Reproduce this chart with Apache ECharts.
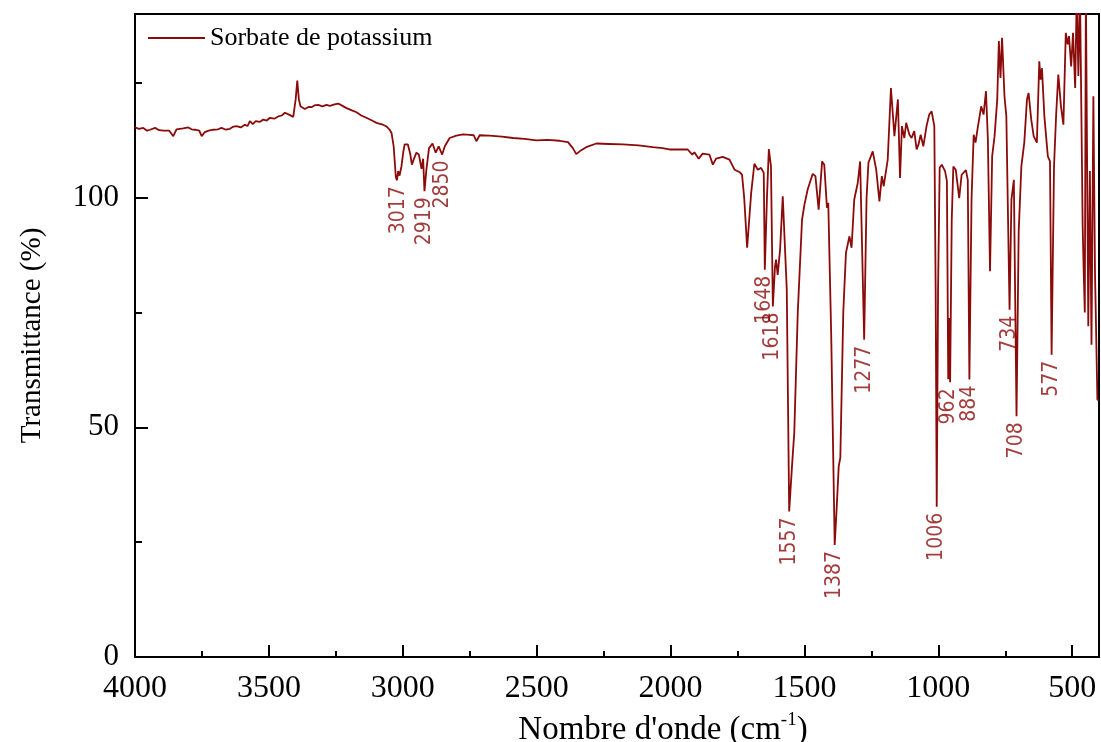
<!DOCTYPE html>
<html>
<head>
<meta charset="utf-8">
<script src="https://cdn.jsdelivr.net/npm/echarts@6/dist/echarts.min.js"></script>
<style>
html,body{margin:0;padding:0;background:#fff;}
#chart{width:1101px;height:742px;}
</style>
</head>
<body>
<div id="chart"></div>
<script>
const seriesName = 'Sorbate de potassium';
const wavenumbers = [
4000,3985,3969,3955,3944,3925,3910,3894,3872,3857,3845,3838,3820,3801,3789,3776,3760,3751,3739,3725,
3708,3690,3677,3660,3646,3635,3621,3605,3590,3580,3571,3560,3549,3535,3521,3508,3496,3480,3465,3452,
3440,3425,3409,3400,3394,3388,3382,3366,3350,3341,3330,3316,3300,3285,3272,3255,3241,3225,3210,3190,
3173,3155,3136,3115,3098,3085,3074,3060,3049,3042,3034,3026,3022,3017,3012,3005,2998,2993,2981,2972,
2966,2958,2949,2940,2930,2924,2919,2912,2902,2889,2877,2866,2853,2843,2825,2800,2775,2750,2735,2725,
2713,2676,2630,2588,2545,2501,2460,2414,2383,2365,2352,2335,2315,2277,2230,2178,2120,2066,2030,2004,
1936,1919,1911,1895,1880,1855,1842,1830,1805,1780,1761,1743,1733,1725,1714,1699,1687,1674,1662,1652,
1648,1640,1633,1625,1618,1610,1606,1600,1591,1581,1574,1566,1557,1546,1538,1525,1509,1500,1488,1469,
1459,1447,1434,1426,1416,1411,1400,1387,1380,1372,1366,1355,1345,1332,1324,1314,1301,1292,1285,1277,
1268,1261,1245,1232,1220,1211,1204,1189,1177,1164,1151,1143,1136,1127,1120,1108,1100,1090,1081,1074,
1066,1056,1044,1034,1025,1015,1010,1006,1001,995,987,975,968,963,960,956,950,944,935,922,
913,897,890,884,876,868,861,853,840,831,822,815,807,799,790,780,774,768,762,753,
746,734,727,718,708,700,690,679,669,663,653,644,632,623,618,613,604,591,583,577,
568,560,552,542,533,524,517,512,504,497,489,483,477,471,465,461,457,453,449,440,
434,428,421,415,406,400
];
const transmittance = [
115.3,115.0,115.2,114.6,114.8,115.2,114.7,114.6,114.6,113.4,114.9,114.8,115.1,115.3,114.9,114.8,114.6,113.4,114.3,114.6,
114.8,114.9,115.2,114.8,115.0,115.4,115.6,115.3,115.9,115.6,116.7,116.0,116.7,116.5,117.0,116.8,117.4,117.2,117.7,117.9,
118.5,118.1,117.6,121.4,125.5,121.4,119.9,119.3,119.8,119.7,120.1,120.2,119.9,120.2,120.0,120.3,120.5,120.0,119.5,119.0,
118.6,117.9,117.4,116.8,116.3,116.1,115.9,115.5,114.8,114.1,111.2,104.5,103.8,105.8,104.8,106.8,110.0,111.6,111.6,109.5,
107.2,108.5,109.8,109.4,106.3,108.5,101.4,106.0,110.8,111.8,109.8,111.2,109.4,111.2,113.0,113.5,113.8,113.7,113.6,112.3,
113.6,113.5,113.3,113.0,112.8,112.5,112.6,112.4,112.1,110.8,109.5,110.3,111.0,111.8,111.7,111.6,111.4,111.0,110.8,110.5,
110.5,109.4,109.9,108.5,109.6,109.4,107.2,108.5,108.9,108.3,106.1,105.6,105.0,100.0,89.1,101.0,107.4,106.1,106.5,105.4,
84.3,100.0,110.6,106.8,76.3,85.0,86.5,83.2,88.7,100.3,99.9,80.0,31.7,42.0,48.8,74.9,95.2,98.5,101.8,105.2,
104.7,97.4,107.9,107.2,97.8,98.9,70.0,24.4,32.0,41.5,43.4,75.0,88.0,91.6,89.1,99.6,103.2,107.9,107.9,69.1,
100.0,107.6,110.1,106.1,99.2,104.7,102.5,108.3,123.9,113.4,121.4,104.3,115.6,113.0,116.3,113.7,113.0,114.5,110.5,111.6,
113.7,111.2,115.6,118.1,118.8,115.6,80.0,32.7,80.0,106.5,107.2,105.8,103.6,60.5,73.8,59.8,95.0,106.8,106.1,99.9,
105.0,106.0,103.9,60.4,99.6,113.7,112.0,115.2,119.9,118.1,123.2,112.7,84.0,109.0,113.4,121.4,134.1,126.1,134.8,122.1,
117.7,75.6,99.6,103.9,52.4,92.4,106.8,112.0,121.4,122.8,117.0,113.4,112.0,129.7,125.7,128.2,117.7,109.0,107.9,65.8,
106.8,118.1,126.8,119.9,115.9,135.9,133.4,135.2,128.6,135.9,123.9,145.0,126.5,145.0,145.0,93.8,83.6,75.0,145.0,72.0,
105.8,68.0,122.1,84.0,56.0,56.0
];
const peakWavenumbers = [3017,2919,2850,1648,1618,1557,1387,1277,1006,962,884,734,708,577];
const peakTransmittance = [103.8,101.4,109.4,84.3,76.3,31.7,24.4,69.1,32.7,59.8,60.4,75.6,52.4,65.8];
const xMajorTicks = [500,1000,1500,2000,2500,3000,3500,4000];
const xMinorTicks = [750,1250,1750,2250,2750,3250,3750];
const yMajorTicks = [0,50,100];
const yMinorTicks = [25,75,125];

const lineColor = '#8B0A0A';
const spectrum = wavenumbers.map((w, i) => [w, transmittance[i]]);
const peaks = peakWavenumbers.map((w, i) => [w, peakTransmittance[i], String(w)]);
const serif = "'Liberation Serif','Times New Roman',serif";
const plain = v => String(v);

const chart = echarts.init(document.getElementById('chart'), null, {renderer: 'canvas'});
const xBase = {type: 'value', min: 400, max: 4000, inverse: true, position: 'bottom'};
const yBase = {type: 'value', min: 0, max: 140, position: 'left'};
chart.setOption({
  animation: false,
  backgroundColor: '#fff',
  grid: {left: 135, right: 2, top: 14, bottom: 85, show: true, borderColor: '#000', borderWidth: 2,
         containLabel: false, outerBoundsMode: 'none'},
  legend: {
    data: [{name: seriesName, icon: 'rect'}], left: 143, top: 20, itemWidth: 57, itemHeight: 2, itemGap: 8,
    textStyle: {fontFamily: serif, fontSize: 26, color: '#000'}
  },
  xAxis: [
    Object.assign({}, xBase, {
      name: "{t|Nombre d'onde (cm}{s|-1}{t|)}", nameLocation: 'middle', nameGap: 54,
      nameTextStyle: {padding: [0, 0, 0, 92], rich: {
        t: {fontFamily: serif, fontSize: 33, color: '#000', lineHeight: 38},
        s: {fontFamily: serif, fontSize: 19, color: '#000', verticalAlign: 'top', lineHeight: 38}
      }},
      axisLine: {show: true, onZero: false, lineStyle: {color: '#000', width: 2}},
      axisTick: {show: true, inside: true, length: 12, customValues: xMajorTicks, lineStyle: {color: '#000', width: 2}},
      axisLabel: {show: true, customValues: xMajorTicks, formatter: plain, margin: 16, fontFamily: serif, fontSize: 32, color: '#000'},
      splitLine: {show: false}
    }),
    Object.assign({}, xBase, {
      axisLine: {show: false},
      axisTick: {show: true, inside: true, length: 6, customValues: xMinorTicks, lineStyle: {color: '#000', width: 2}},
      axisLabel: {show: false},
      splitLine: {show: false}
    })
  ],
  yAxis: [
    Object.assign({}, yBase, {
      name: 'Transmittance (%)', nameLocation: 'middle', nameGap: 68, nameRotate: 90,
      nameTextStyle: {fontFamily: serif, fontSize: 29, color: '#000', padding: [0, 0, 20, 0]},
      axisLine: {show: true, onZero: false, lineStyle: {color: '#000', width: 2}},
      axisTick: {show: true, inside: true, length: 13, customValues: yMajorTicks, lineStyle: {color: '#000', width: 2}},
      axisLabel: {show: true, customValues: yMajorTicks, formatter: plain, margin: 16, fontFamily: serif, fontSize: 31, color: '#000'},
      splitLine: {show: false}
    }),
    Object.assign({}, yBase, {
      axisLine: {show: false, onZero: false},
      axisTick: {show: true, inside: true, length: 7, customValues: yMinorTicks, lineStyle: {color: '#000', width: 2}},
      axisLabel: {show: false},
      splitLine: {show: false}
    })
  ],
  series: [
    {
      name: seriesName, type: 'line', data: spectrum, xAxisIndex: 0, yAxisIndex: 0,
      symbol: 'none', smooth: false, clip: true,
      lineStyle: {color: lineColor, width: 1.8}, itemStyle: {color: lineColor}
    },
    {
      name: 'peaks', type: 'scatter', data: peaks, xAxisIndex: 0, yAxisIndex: 0,
      symbolSize: 0, silent: true,
      label: {
        show: true, position: [0, 6], rotate: 90, align: 'right', verticalAlign: 'middle',
        formatter: p => p.value[2],
        fontFamily: "'Liberation Sans Narrow','Arial Narrow','DejaVu Sans Condensed','Liberation Sans',Arial,sans-serif",
        fontSize: 21, color: lineColor
      }
    }
  ]
});
</script>
</body>
</html>
